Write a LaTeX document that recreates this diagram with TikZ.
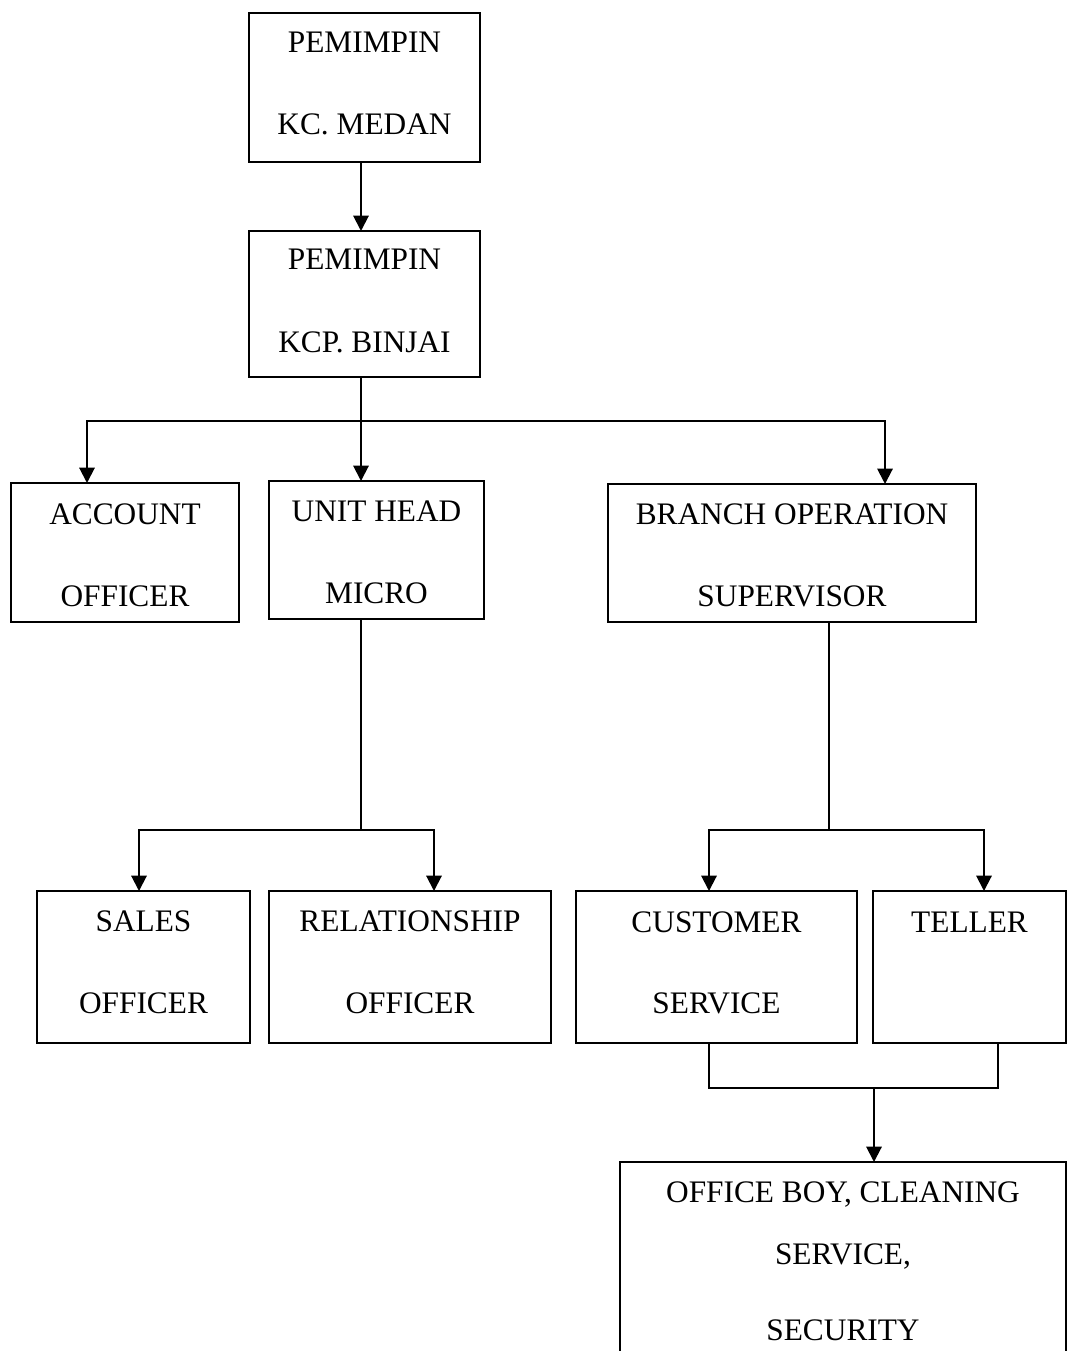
\documentclass[tikz,border=0pt]{standalone}
\usepackage{fontspec}
\setmainfont{Liberation Serif}
\usetikzlibrary{arrows.meta}
\begin{document}
\begin{tikzpicture}[x=0.75pt,y=-0.75pt,
  orgbox/.style={draw=black,line width=1.4pt,rectangle,inner sep=0pt,outer sep=0pt},
  lbl/.style={anchor=base,inner sep=0pt,font=\fontsize{23.5pt}{28pt}\selectfont},
  conn/.style={draw=black,line width=1.5pt},
  arr/.style={conn,-{Triangle[length=11.5pt,width=11.5pt]}}]
\useasboundingbox (0,0) rectangle (1067,1351);
\fill[white] (0,0) rectangle (1067,1351);
\clip (0,0) rectangle (1067,1351);
% boxes
\node[orgbox,minimum width=173.25pt,minimum height=111.75pt] (kc) at (364.5,87.5) {};
\node[orgbox,minimum width=173.25pt,minimum height=109.5pt] (kcp) at (364.5,304) {};
\node[orgbox,minimum width=171pt,minimum height=104.25pt] (ao) at (125,552.5) {};
\node[orgbox,minimum width=161.25pt,minimum height=103.5pt] (uh) at (376.5,550) {};
\node[orgbox,minimum width=276pt,minimum height=103.5pt] (bos) at (792,553) {};
\node[orgbox,minimum width=159.75pt,minimum height=114pt] (so) at (143.5,967) {};
\node[orgbox,minimum width=211.5pt,minimum height=114pt] (ro) at (410,967) {};
\node[orgbox,minimum width=210.75pt,minimum height=114pt] (cs) at (716.5,967) {};
\node[orgbox,minimum width=144.75pt,minimum height=114pt] (tl) at (969.5,967) {};
\node[orgbox,minimum width=334.5pt,minimum height=163.5pt] (ob) at (843,1271) {};
% labels
\node[lbl] (kc1) at (364.5,53) {PEMIMPIN};
\node[lbl] (kc2) at (364.5,135) {KC. MEDAN};
\node[lbl] (kcp1) at (364.5,270) {PEMIMPIN};
\node[lbl] (kcp2) at (364.5,353) {KCP. BINJAI};
\node[lbl] (ao1) at (125,524) {ACCOUNT};
\node[lbl] (ao2) at (125,606) {OFFICER};
\node[lbl] (uh1) at (376.5,521) {UNIT HEAD};
\node[lbl] (uh2) at (376.5,603) {MICRO};
\node[lbl] (bos1) at (792,524) {BRANCH OPERATION};
\node[lbl] (bos2) at (792,606) {SUPERVISOR};
\node[lbl] (so1) at (143.5,931) {SALES};
\node[lbl] (so2) at (143.5,1013) {OFFICER};
\node[lbl] (ro1) at (410,931) {RELATIONSHIP};
\node[lbl] (ro2) at (410,1013) {OFFICER};
\node[lbl] (cs1) at (716.5,932) {CUSTOMER};
\node[lbl] (cs2) at (716.5,1013) {SERVICE};
\node[lbl] (tl1) at (969.5,932) {TELLER};
\node[lbl] (ob1) at (843,1202) {OFFICE BOY, CLEANING};
\node[lbl] (ob2) at (843,1264) {SERVICE,};
\node[lbl] (ob3) at (843,1340) {SECURITY};
% junction coordinates
\coordinate (spine) at (361,421);
\coordinate (aoin) at (87,421);
\coordinate (bosin) at (885,421);
\coordinate (uhj) at (361,830);
\coordinate (soin) at (139,830);
\coordinate (roin) at (434,830);
\coordinate (bj) at (829,830);
\coordinate (csin) at (709,830);
\coordinate (tlin) at (984,830);
\coordinate (csout) at (709,1088);
\coordinate (tlout) at (998,1088);
\coordinate (obin) at (874,1088);
% connectors
\draw[arr] (kc.south -| spine) -- (kcp.north -| spine);
\draw[conn] (kcp.south -| spine) -- (spine);
\draw[conn,line cap=rect] (aoin) -- (bosin);
\draw[arr] (aoin) -- (aoin |- ao.north);
\draw[arr] (spine) -- (spine |- uh.north);
\draw[arr] (bosin) -- (bosin |- bos.north);
\draw[conn] (uh.south -| uhj) -- (uhj);
\draw[conn,line cap=rect] (soin) -- (roin);
\draw[arr] (soin) -- (soin |- so.north);
\draw[arr] (roin) -- (roin |- ro.north);
\draw[conn] (bos.south -| bj) -- (bj);
\draw[conn,line cap=rect] (csin) -- (tlin);
\draw[arr] (csin) -- (csin |- cs.north);
\draw[arr] (tlin) -- (tlin |- tl.north);
\draw[conn] (cs.south -| csout) -- (csout) -- (tlout) -- (tl.south -| tlout);
\draw[arr] (obin) -- (obin |- ob.north);
\end{tikzpicture}
\end{document}
